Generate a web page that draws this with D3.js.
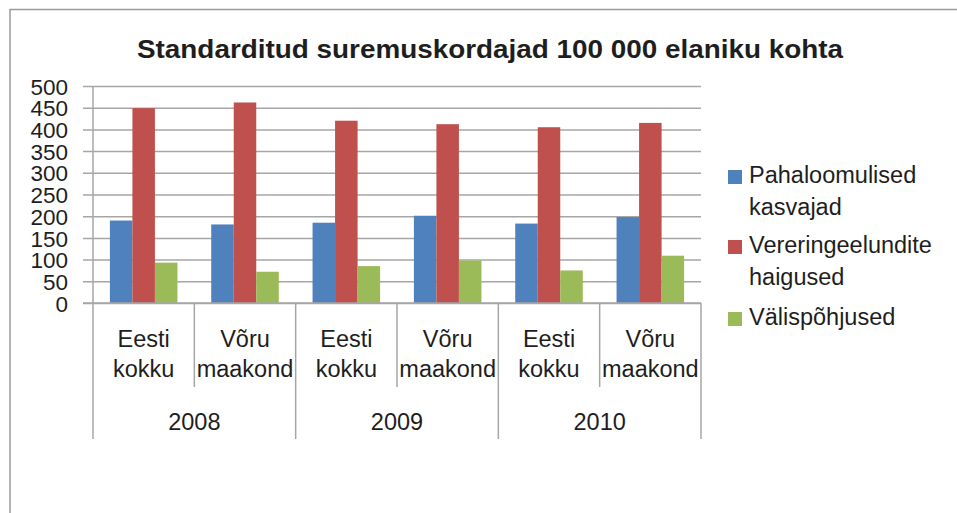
<!DOCTYPE html>
<html>
<head>
<meta charset="utf-8">
<script src="https://cdn.jsdelivr.net/npm/d3@7"></script>
<style>
  html, body { margin: 0; padding: 0; background: #fff; }
  svg { display: block; }
  text { font-family: "Liberation Sans", Arial, sans-serif; fill: #1e1e1e; }
</style>
</head>
<body>
<svg id="chart" width="957" height="513"></svg>
<script>
// ---- data ----
const title = "Standarditud suremuskordajad 100 000 elaniku kohta";
const years = ["2008", "2009", "2010"];
const regions = [["Eesti", "kokku"], ["Võru", "maakond"]];
const categories = ["2008|Eesti kokku", "2008|Võru maakond", "2009|Eesti kokku", "2009|Võru maakond", "2010|Eesti kokku", "2010|Võru maakond"];
const seriesNames = [["Pahaloomulised", "kasvajad"], ["Vereringeelundite", "haigused"], ["Välispõhjused"]];
const pahaloomulised = [190, 181, 185, 201, 183, 198];
const vereringeelundite = [449, 462, 420, 412, 405, 415];
const valispohjused = [93, 72, 85, 98, 75, 109];
const yTicks = [0, 50, 100, 150, 200, 250, 300, 350, 400, 450, 500];
const colors = ["#4F81BD", "#C0504D", "#9BBB59"];

const seriesValues = [pahaloomulised, vereringeelundite, valispohjused];
const seriesKeys = ["s0", "s1", "s2"];

const svg = d3.select("#chart");

// outer frame (partially cropped)
svg.append("path")
  .attr("d", "M10,514 L10,9.5 L960,9.5")
  .attr("fill", "none").attr("stroke", "#9a9a9a").attr("stroke-width", 1.5);

// title
svg.append("text")
  .attr("x", 137).attr("y", 58)
  .attr("font-size", 25).attr("font-weight", "bold")
  .attr("textLength", 706).attr("lengthAdjust", "spacingAndGlyphs")
  .text(title);

const plotL = 93, plotR = 701, plotT = 86, plotB = 303;

const y = d3.scaleLinear().domain([0, 500]).range([plotB, plotT]);
const x0 = d3.scaleBand().domain(categories).range([plotL, plotR]).padding(0);
const x1 = d3.scaleBand().domain(seriesKeys).range([0, x0.bandwidth()]).paddingInner(0).paddingOuter(0.75);

// gridlines (including tick marks left of axis)
svg.append("g")
  .attr("transform", `translate(${plotR},0)`)
  .call(d3.axisRight(y).tickValues(yTicks).tickSize(-(plotR - plotL) - 10).tickFormat(""))
  .call(g => g.select(".domain").remove())
  .call(g => g.selectAll("line").attr("stroke", "#a6a6a6").attr("stroke-width", 1.5));

// y tick labels
svg.append("g")
  .attr("transform", `translate(${plotL},0)`)
  .call(d3.axisLeft(y).tickValues(yTicks).tickSize(0).tickPadding(25))
  .call(g => g.select(".domain").remove())
  .call(g => g.selectAll("text")
    .attr("font-size", 22.5)
    .attr("font-family", "Liberation Sans, Arial, sans-serif")
    .attr("fill", "#1e1e1e")
    .attr("dy", "0.36em"));

// y axis line
svg.append("line")
  .attr("x1", plotL).attr("x2", plotL).attr("y1", plotT).attr("y2", plotB)
  .attr("stroke", "#a6a6a6").attr("stroke-width", 1.5);

// bars
const rows = categories.map((c, i) => ({ cat: c, vals: seriesKeys.map((k, j) => ({ key: k, v: seriesValues[j][i], j })) }));
svg.append("g").selectAll("g")
  .data(rows).join("g")
  .attr("transform", d => `translate(${x0(d.cat)},0)`)
  .selectAll("rect")
  .data(d => d.vals).join("rect")
  .attr("x", d => x1(d.key))
  .attr("width", x1.bandwidth())
  .attr("y", d => y(d.v))
  .attr("height", d => y(0) - y(d.v))
  .attr("fill", d => colors[d.j]);

// x axis baseline
svg.append("line")
  .attr("x1", plotL - 10).attr("x2", plotR).attr("y1", plotB).attr("y2", plotB)
  .attr("stroke", "#a6a6a6").attr("stroke-width", 1.5);

// category dividers
const bounds = d3.range(categories.length + 1);
svg.append("g").selectAll("line")
  .data(bounds).join("line")
  .attr("x1", i => plotL + i * x0.step())
  .attr("x2", i => plotL + i * x0.step())
  .attr("y1", plotB)
  .attr("y2", i => (i % 2 === 0) ? 439 : 387)
  .attr("stroke", "#a6a6a6").attr("stroke-width", 1.5);

// category labels
const catLabels = svg.append("g").selectAll("text")
  .data(categories).join("text")
  .attr("text-anchor", "middle")
  .attr("font-size", 23.5)
  .attr("x", c => x0(c) + x0.bandwidth() / 2)
  .attr("y", 347);
catLabels.each(function(c, i) {
  const lines = regions[i % 2];
  const t = d3.select(this);
  lines.forEach((ln, k) => {
    t.append("tspan").attr("x", x0(c) + x0.bandwidth() / 2).attr("y", 347 + k * 30).text(ln);
  });
});

// year labels
svg.append("g").selectAll("text")
  .data(years).join("text")
  .attr("text-anchor", "middle")
  .attr("font-size", 23.5)
  .attr("x", (yr, i) => plotL + (i * 2 + 1) * x0.step())
  .attr("y", 430)
  .text(yr => yr);

// legend
const legendTop = [183, 253, 325];
const legend = svg.append("g").selectAll("g")
  .data(seriesNames).join("g");
legend.append("rect")
  .attr("x", 728).attr("y", (d, i) => legendTop[i] - 13)
  .attr("width", 14).attr("height", 14)
  .attr("fill", (d, i) => colors[i]);
legend.append("text")
  .attr("font-size", 23.5)
  .attr("x", 749)
  .each(function(d, i) {
    const t = d3.select(this);
    d.forEach((ln, k) => t.append("tspan").attr("x", 749).attr("y", legendTop[i] + k * 32).text(ln));
  });
</script>
</body>
</html>
